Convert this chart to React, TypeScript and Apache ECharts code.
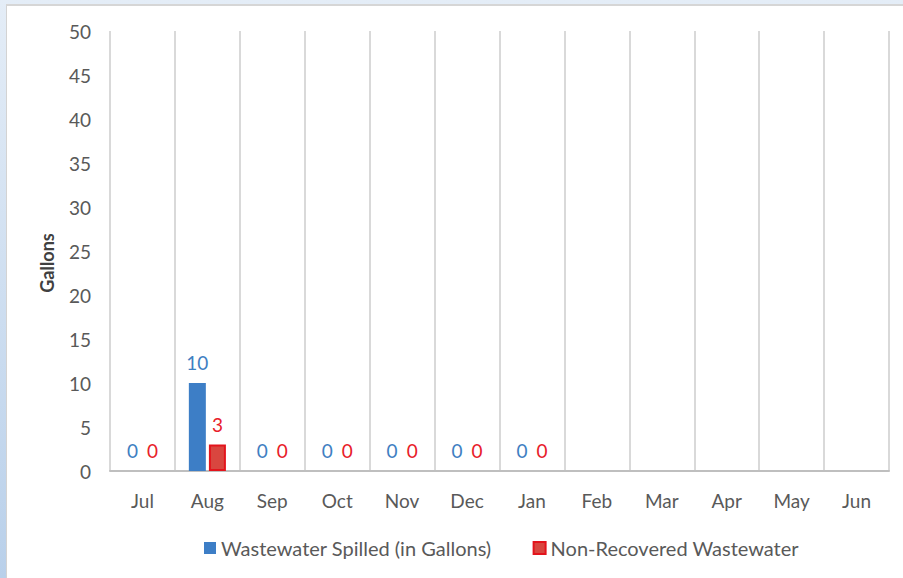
import React, { useEffect, useRef } from "react";
import * as echarts from "echarts";

const months = ["Jul", "Aug", "Sep", "Oct", "Nov", "Dec", "Jan", "Feb", "Mar", "Apr", "May", "Jun"];
const spilled: (number | null)[] = [0, 10, 0, 0, 0, 0, 0, null, null, null, null, null];
const nonRecovered: (number | null)[] = [0, 3, 0, 0, 0, 0, 0, null, null, null, null, null];
const seriesNames = ["Wastewater Spilled (in Gallons)", "Non-Recovered Wastewater"];
const yAxisTitle = "Gallons";
const yMin = 0;
const yMax = 50;
const yStep = 5;

const FONT = "Lato, 'Noto Sans', sans-serif";

export default function App() {
  const ref = useRef<HTMLDivElement>(null);
  useEffect(() => {
    document.body.style.margin = "0";
    const chart = echarts.init(ref.current!, null, { renderer: "svg" });
    const redData = nonRecovered.map((v) =>
      v === 0 ? { value: v, itemStyle: { borderWidth: 0 } } : v
    );
    chart.setOption({
      animation: false,
      textStyle: { fontFamily: FONT },
      grid: { left: 110, right: 14, top: 31, bottom: 107 },
      legend: {
        left: 199,
        top: 533,
        itemWidth: 12,
        itemHeight: 12,
        itemGap: 41,
        icon: "rect",
        textStyle: { fontSize: 20, color: "#595959", fontFamily: FONT },
        data: seriesNames,
      },
      graphic: [
        {
          type: "text",
          x: 47,
          y: 263,
          rotation: Math.PI / 2,
          style: {
            text: yAxisTitle,
            fontSize: 18,
            fontWeight: "bold",
            fill: "#404040",
            fontFamily: FONT,
            align: "center",
            verticalAlign: "middle",
          },
        },
      ],
      xAxis: {
        type: "category",
        data: months,
        boundaryGap: true,
        axisLine: { show: true, lineStyle: { color: "#bfbfbf", width: 2 } },
        axisTick: { show: false },
        axisLabel: { color: "#595959", fontSize: 19, margin: 20, fontFamily: FONT },
        splitLine: { show: true, lineStyle: { color: "#d9d9d9", width: 2 } },
      },
      yAxis: {
        type: "value",
        min: yMin,
        max: yMax,
        interval: yStep,
        axisLine: { show: false },
        axisTick: { show: false },
        axisLabel: { color: "#595959", fontSize: 19, margin: 19, fontFamily: FONT },
        splitLine: { show: false },
      },
      series: [
        {
          name: seriesNames[0],
          type: "bar",
          data: spilled,
          barWidth: 17,
          barGap: "18%",
          itemStyle: { color: "#3d7ec6" },
          label: {
            show: true,
            position: "top",
            distance: 11,
            color: "#3f7fc2",
            fontSize: 19,
            fontFamily: FONT,
          },
        },
        {
          name: seriesNames[1],
          type: "bar",
          data: redData,
          barWidth: 17,
          itemStyle: { color: "#d9463f", borderColor: "#e3141c", borderWidth: 2 },
          label: {
            show: true,
            position: "top",
            distance: 11,
            color: "#e8202a",
            fontSize: 19,
            fontFamily: FONT,
          },
        },
      ],
    });
    return () => chart.dispose();
  }, []);

  return (
    <div
      style={{
        position: "fixed",
        left: 0,
        top: 0,
        width: 903,
        height: 578,
        background: "linear-gradient(to bottom, #e4edf7, #b9d0ea)",
        overflow: "hidden",
      }}
    >
      <div
        style={{
          position: "absolute",
          left: 6,
          top: 4,
          right: 0,
          bottom: 0,
          background: "#ffffff",
          borderLeft: "1px solid #d3d3d3",
          borderTop: "2px solid #d6d6d6",
        }}
      />
      <div ref={ref} style={{ position: "absolute", left: 0, top: 0, width: 903, height: 578 }} />
    </div>
  );
}
